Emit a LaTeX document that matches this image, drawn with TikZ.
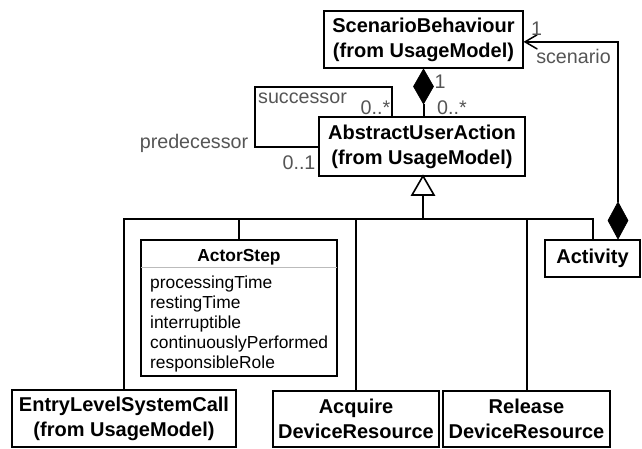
\documentclass[tikz,border=0pt]{standalone}
\usepackage{fontspec}
\setmainfont{Liberation Sans}
\usetikzlibrary{calc}
\definecolor{labelgray}{HTML}{555555}
\definecolor{sepgray}{HTML}{BBBBBB}
\begin{document}
\begin{tikzpicture}[x=1pt,y=-1pt,
  box/.style={draw,line width=2pt,font=\fontsize{20}{25}\selectfont\bfseries,align=center,inner sep=0pt},
  lbl/.style={font=\fontsize{19.7}{22}\selectfont,text=labelgray,inner sep=0pt,anchor=base},
  attr/.style={font=\fontsize{17.4}{20}\selectfont,inner sep=0pt,anchor=base west},
  conn/.style={line width=2pt},
  diam/.style={fill=black,line width=0.6pt,draw=black,line join=miter},
  tri/.style={draw,fill=white,line width=1.6pt,line join=miter},
  barb/.style={line width=1.5pt,line cap=round}]
\useasboundingbox (0,0) rectangle (642,448);

% classes
\node[box,minimum width=199pt,minimum height=57pt] (sb) at (423.5,39.5) {ScenarioBehaviour\\(from UsageModel)};
\node[box,minimum width=206pt,minimum height=59pt] (aua) at (422,146.5) {AbstractUserAction\\(from UsageModel)};
\node[draw,line width=2pt,minimum width=196pt,minimum height=136pt,inner sep=0pt] (actor) at (239,308) {};
\node[font=\fontsize{17.4}{20}\selectfont\bfseries,anchor=base,inner sep=0pt] (atitle) at (239,261) {ActorStep};
\draw[line width=1pt,sepgray] ($(actor.north west)+(1,28)$) -- ($(actor.north east)+(-1,28)$);
\node[attr] (a1) at (150,288) {processingTime};
\node[attr] (a2) at (150,308) {restingTime};
\node[attr] (a3) at (150,328) {interruptible};
\node[attr] (a4) at (150,348) {continuouslyPerformed};
\node[attr] (a5) at (150,368) {responsibleRole};
\node[box,minimum width=224pt,minimum height=57pt] (elsc) at (124,418.5) {EntryLevelSystemCall\\(from UsageModel)};
\node[box,minimum width=166pt,minimum height=56pt] (acq) at (356,419) {Acquire\\DeviceResource};
\node[box,minimum width=167pt,minimum height=56pt] (rel) at (526.5,419) {Release\\DeviceResource};
\node[box,minimum width=95pt,minimum height=37pt] (act) at (592.5,258.5) {Activity};

% generalization tree
\coordinate (bus) at (423,219);
\coordinate (tA) at ($(bus |- aua.south)+(0,-1)$);
\coordinate (tB) at ($(tA)+(0,19)$);
\draw[conn] (tB) -- (bus);
\draw[tri] (tA) -- ++(11,19) -- ++(-22,0) -- cycle;
\draw[conn] (elsc.north) |- (bus);
\draw[conn] (actor.north) |- (bus);
\draw[conn] (acq.north) |- (bus);
\draw[conn] (rel.north) |- (bus);
\draw[conn] (act.north) |- (bus);

% composition ScenarioBehaviour - AbstractUserAction
\coordinate (d1) at ($(sb.south)+(0,35)$);
\draw[diam] (sb.south) -- ++(10,17.5) -- ++(-10,17.5) -- ++(-10,-17.5) -- cycle;
\draw[conn] (d1) -- (d1 |- aua.north);

% self association
\coordinate (lp) at (255,87);
\draw[conn] ($(aua.north west)+(74,0)$) |- (lp) |- (aua.west);

% Activity -> ScenarioBehaviour
\coordinate (ad) at ($(act.north east)+(-23,0)$);
\coordinate (ad2) at ($(ad)+(0,-37)$);
\coordinate (tgt) at ($(sb.north east)!0.54!(sb.south east)+(1,0)$);
\draw[diam] (ad) -- ++(10,-18.5) -- ++(-10,-18.5) -- ++(-10,18.5) -- cycle;
\draw[conn] (ad2) |- (tgt);
\draw[barb] ($(tgt)+(12,-7)$) -- (tgt) -- ($(tgt)+(12,7)$);

% labels
\node[lbl] (l1) at (536.5,35) {1};
\node[lbl] (l2) at (573.5,63) {scenario};
\node[lbl] (l3) at (440,88) {1};
\node[lbl] (l4) at (452,114) {0..*};
\node[lbl] (l5) at (302.5,103) {successor};
\node[lbl] (l6) at (375.5,114) {0..*};
\node[lbl] (l7) at (194,148) {predecessor};
\node[lbl] (l8) at (299,169) {0..1};
\end{tikzpicture}
\end{document}
